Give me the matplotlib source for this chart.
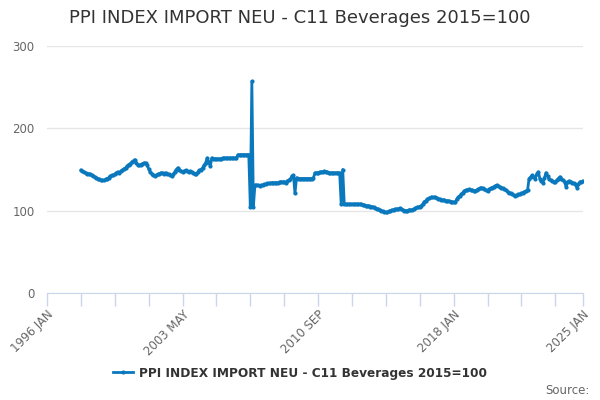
import numpy as np
import matplotlib
matplotlib.use("Agg")
import matplotlib.pyplot as plt

# monthly index values, first value = 1997 NOV
start_year, start_month = 1997, 11
v1997 = [149, 148]
v1998 = [147, 146, 145, 145, 144, 143, 142, 141, 140, 139, 138, 137]
v1999 = [137, 137, 138, 139, 140, 142, 143, 143, 144, 146, 147, 146]
v2000 = [148, 149, 151, 152, 154, 156, 157, 159, 160, 162, 158, 155]
v2001 = [155, 156, 157, 158, 158, 155, 151, 147, 145, 143, 142, 143]
v2002 = [144, 145, 146, 146, 145, 146, 145, 144, 143, 142, 144, 147]
v2003 = [150, 152, 150, 148, 147, 148, 149, 148, 147, 148, 147, 146]
v2004 = [145, 144, 147, 149, 150, 152, 155, 158, 164, 159, 154, 164]
v2005 = [163, 163, 163, 163, 163, 163, 164, 164, 164, 164, 164, 164]
v2006 = [164, 164, 164, 164, 168, 168, 168, 168, 168, 168, 168, 168]
v2007 = [105, 257, 105, 131, 131, 131, 130, 131, 131, 132, 132, 133]
v2008 = [133, 133, 134, 134, 134, 134, 134, 135, 135, 135, 135, 134]
v2009 = [136, 137, 138, 142, 143, 121, 140, 139, 139, 139, 139, 139]
v2010 = [139, 139, 139, 139, 139, 140, 146, 146, 146, 147, 147, 147]
v2011 = [148, 147, 147, 146, 146, 146, 146, 146, 146, 146, 146, 108]
v2012 = [150, 108, 108, 108, 108, 108, 108, 108, 108, 108, 108, 108]
v2013 = [108, 107, 107, 106, 106, 106, 105, 105, 104, 103, 102, 102]
v2014 = [101, 100, 99, 98, 98, 98, 99, 100, 101, 101, 102, 102]
v2015 = [102, 103, 102, 101, 100, 100, 100, 101, 101, 101, 102, 103]
v2016 = [104, 104, 105, 106, 108, 111, 112, 114, 115, 116, 116, 116]
v2017 = [116, 115, 114, 114, 113, 113, 113, 112, 112, 112, 111, 111]
v2018 = [110, 110, 114, 116, 118, 120, 122, 124, 125, 125, 126, 125]
v2019 = [125, 124, 124, 125, 126, 127, 128, 127, 126, 125, 124, 126]
v2020 = [127, 128, 129, 130, 131, 130, 129, 128, 127, 126, 125, 123]
v2021 = [122, 121, 120, 119, 118, 119, 120, 120, 121, 122, 123, 124]
v2022 = [125, 139, 141, 143, 141, 139, 145, 147, 139, 136, 134, 140]
v2023 = [146, 142, 138, 137, 136, 135, 135, 137, 139, 141, 139, 137]
v2024 = [135, 129, 135, 136, 135, 134, 133, 132, 128, 132, 135, 135]
v2025 = [136]

values = (v1997 + v1998 + v1999 + v2000 + v2001 + v2002 + v2003 + v2004 + v2005
          + v2006 + v2007 + v2008 + v2009 + v2010 + v2011 + v2012 + v2013 + v2014
          + v2015 + v2016 + v2017 + v2018 + v2019 + v2020 + v2021 + v2022 + v2023
          + v2024 + v2025)

tick_labels = ["1996 JAN", "2003 MAY", "2010 SEP", "2018 JAN", "2025 JAN"]
series_name = "PPI INDEX IMPORT NEU - C11 Beverages 2015=100"

# months counted from 1996 JAN
first = (start_year - 1996) * 12 + (start_month - 1)
months = np.arange(first, first + len(values))
last = 348

fig = plt.figure(figsize=(6, 4), dpi=100)
ax = fig.add_axes([47 / 600, 1 - 293 / 400, 536 / 600, 247 / 400])

blue = "#0a78bd"
ax.plot(months, values, color=blue, lw=2, marker="o", ms=2, label=series_name)

ax.set_xlim(0, last)
ax.set_ylim(0, 300)
ax.set_yticks([0, 100, 200, 300])
ax.grid(axis="y", color="#e6e6e6", lw=1)
ax.set_axisbelow(True)

minor = list(range(0, 331, 22)) + [last]
ax.set_xticks(minor)
lab = []
for m in minor:
    lab.append("")
major_pos = [0, 88, 176, 264, 348]
for p, t in zip(major_pos, tick_labels):
    lab[minor.index(p)] = t
ax.set_xticklabels(lab, rotation=45, ha="right", rotation_mode="anchor",
                   color="#666666", fontsize=8.5)
ax.tick_params(axis="x", length=9, color="#ccd6eb", width=1, pad=2)
ax.tick_params(axis="y", length=0, colors="#666666", labelsize=8.5, pad=9)

for s in ["top", "right", "left"]:
    ax.spines[s].set_visible(False)
ax.spines["bottom"].set_color("#ccd6eb")

fig.text(0.5, 1 - 18 / 400, series_name, ha="center", va="center",
         fontsize=13, color="#333333")

leg = fig.legend(loc="center", bbox_to_anchor=(0.5, 1 - 373 / 400), frameon=False,
                 prop={"weight": "bold", "size": 8.7}, handlelength=1.6,
                 handletextpad=0.5)
for t in leg.get_texts():
    t.set_color("#333333")

fig.text(590 / 600, 1 - 390 / 400, "Source:", ha="right", va="center",
         fontsize=8.5, color="#666666")

fig.savefig("out.png", dpi=100)
